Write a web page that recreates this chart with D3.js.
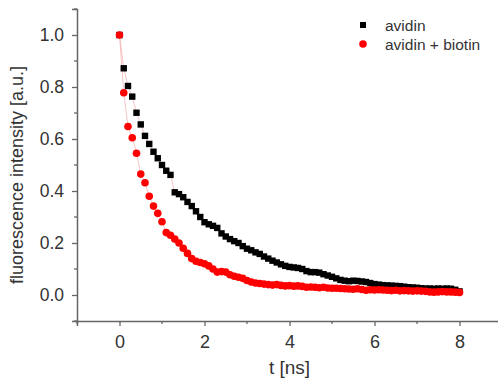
<!DOCTYPE html>
<html>
<head>
<meta charset="utf-8">
<script src="https://cdn.jsdelivr.net/npm/d3@7"></script>
<style>
  body { margin: 0; background: #fff; }
  svg { display: block; font-family: "Liberation Sans", Arial, sans-serif; }
</style>
</head>
<body>
<div id="chart-container"></div>
<script>
// sample times, 0 to 8 ns every 0.1 ns
const times = d3.range(81).map(i => i / 10);

const avidin = [
  1.0, 0.872, 0.804, 0.763, 0.701, 0.656, 0.612, 0.581, 0.551, 0.526,
  0.5, 0.478, 0.462, 0.395, 0.388, 0.376, 0.358, 0.342, 0.322, 0.3,
  0.28, 0.272, 0.266, 0.258, 0.237, 0.225, 0.215, 0.207, 0.2, 0.188,
  0.178, 0.172, 0.164, 0.158, 0.148, 0.14, 0.132, 0.125, 0.118, 0.112,
  0.108, 0.106, 0.104, 0.1, 0.092, 0.088, 0.088, 0.086, 0.08, 0.075,
  0.07, 0.064, 0.058, 0.055, 0.053, 0.055, 0.054, 0.052, 0.05, 0.046,
  0.042, 0.04, 0.038, 0.037, 0.036, 0.035, 0.034, 0.032, 0.03, 0.029,
  0.028, 0.026, 0.025, 0.025, 0.024, 0.025, 0.024, 0.025, 0.024, 0.02,
  0.014
];

const avidinBiotin = [
  1.0, 0.778, 0.648, 0.605, 0.545, 0.465, 0.432, 0.38, 0.342, 0.314,
  0.282, 0.24, 0.23, 0.215, 0.2, 0.18, 0.16, 0.14, 0.13, 0.125,
  0.12, 0.112, 0.1, 0.088, 0.09, 0.088, 0.078, 0.072, 0.068, 0.064,
  0.056, 0.05, 0.046, 0.044, 0.042, 0.04, 0.038, 0.04, 0.037, 0.035,
  0.036, 0.034, 0.035, 0.033, 0.03, 0.031, 0.03, 0.028, 0.03, 0.027,
  0.026, 0.026, 0.025, 0.024, 0.023, 0.022, 0.024, 0.021, 0.018, 0.02,
  0.019, 0.02, 0.019, 0.018, 0.017, 0.018, 0.016, 0.017, 0.016, 0.015,
  0.016, 0.015, 0.014, 0.012, 0.011, 0.012, 0.013, 0.012, 0.012, 0.011,
  0.01
];

const seriesNames = ["avidin", "avidin + biotin"];
const xTicks = [0, 2, 4, 6, 8];
const xMinorTicks = [-1, 1, 3, 5, 7];
const yTicks = [0.0, 0.2, 0.4, 0.6, 0.8, 1.0];
const yMinorTicks = [-0.1, 0.1, 0.3, 0.5, 0.7, 0.9, 1.1];

const width = 498;
const height = 381;
const axisColor = "#666";
const textColor = "#333";

const xScale = d3.scaleLinear().domain([-1, 9]).range([77, 502]);
const yScale = d3.scaleLinear().domain([-0.1, 1.1]).range([321, 9]);

const svg = d3
  .select("#chart-container")
  .append("svg")
  .attr("width", width)
  .attr("height", height);

// x axis
const xAxis = svg.append("g").attr("transform", `translate(0, ${yScale(-0.1)})`);
xAxis
  .call(d3.axisBottom(xScale).tickValues(xTicks).tickSize(5).tickPadding(9).tickFormat(d3.format("d")))
  .call(g => g.select(".domain").attr("stroke", axisColor).attr("stroke-width", 1.5))
  .call(g => g.selectAll(".tick line").attr("stroke", axisColor).attr("stroke-width", 1.3))
  .call(g => g.selectAll(".tick text").attr("fill", textColor).attr("font-size", 18));
xAxis
  .selectAll(".minor")
  .data(xMinorTicks)
  .enter()
  .append("line")
  .attr("x1", d => xScale(d))
  .attr("x2", d => xScale(d))
  .attr("y1", 0)
  .attr("y2", 3)
  .attr("stroke", axisColor)
  .attr("stroke-width", 1.3);

// y axis
const yAxis = svg.append("g").attr("transform", `translate(${xScale(-1)}, 0)`);
yAxis
  .call(d3.axisLeft(yScale).tickValues(yTicks).tickSize(5).tickPadding(8).tickFormat(d3.format(".1f")))
  .call(g => g.select(".domain").attr("stroke", axisColor).attr("stroke-width", 1.5))
  .call(g => g.selectAll(".tick line").attr("stroke", axisColor).attr("stroke-width", 1.3))
  .call(g => g.selectAll(".tick text").attr("fill", textColor).attr("font-size", 17.5));
yAxis
  .selectAll(".minor")
  .data(yMinorTicks)
  .enter()
  .append("line")
  .attr("x1", 0)
  .attr("x2", -3)
  .attr("y1", d => yScale(d))
  .attr("y2", d => yScale(d))
  .attr("stroke", axisColor)
  .attr("stroke-width", 1.3);

// axis titles
svg
  .append("text")
  .text("t [ns]")
  .attr("x", xScale(4))
  .attr("y", 374)
  .attr("text-anchor", "middle")
  .attr("font-size", 19)
  .attr("fill", textColor);

svg
  .append("text")
  .text("fluorescence intensity [a.u.]")
  .attr("transform", `translate(23, 175) rotate(-90)`)
  .attr("text-anchor", "middle")
  .attr("font-size", 18)
  .attr("fill", textColor);

// faint connecting lines
const line = d3
  .line()
  .x((d, i) => xScale(times[i]))
  .y(d => yScale(d));

[avidin, avidinBiotin].forEach(values => {
  svg
    .append("path")
    .attr("d", line(values))
    .attr("fill", "none")
    .attr("stroke", "#f2a0a0")
    .attr("stroke-width", 1)
    .attr("opacity", 0.6);
});

// avidin squares
svg
  .append("g")
  .selectAll("rect")
  .data(avidin)
  .enter()
  .append("rect")
  .attr("x", (d, i) => xScale(times[i]) - 3.2)
  .attr("y", d => yScale(d) - 3.2)
  .attr("width", 6.4)
  .attr("height", 6.4)
  .attr("fill", "#000");

// avidin + biotin circles
svg
  .append("g")
  .selectAll("circle")
  .data(avidinBiotin)
  .enter()
  .append("circle")
  .attr("cx", (d, i) => xScale(times[i]))
  .attr("cy", d => yScale(d))
  .attr("r", 3.8)
  .attr("fill", "#f00");

// legend
const legend = svg.append("g");
legend
  .append("rect")
  .attr("x", 360)
  .attr("y", 22)
  .attr("width", 6)
  .attr("height", 6)
  .attr("fill", "#000");
legend
  .append("circle")
  .attr("cx", 363)
  .attr("cy", 44)
  .attr("r", 3.8)
  .attr("fill", "#f00");
legend
  .selectAll("text")
  .data(seriesNames)
  .enter()
  .append("text")
  .text(d => d)
  .attr("x", 385)
  .attr("y", (d, i) => 31 + i * 19)
  .attr("font-size", 15.5)
  .attr("fill", textColor);
</script>
</body>
</html>
